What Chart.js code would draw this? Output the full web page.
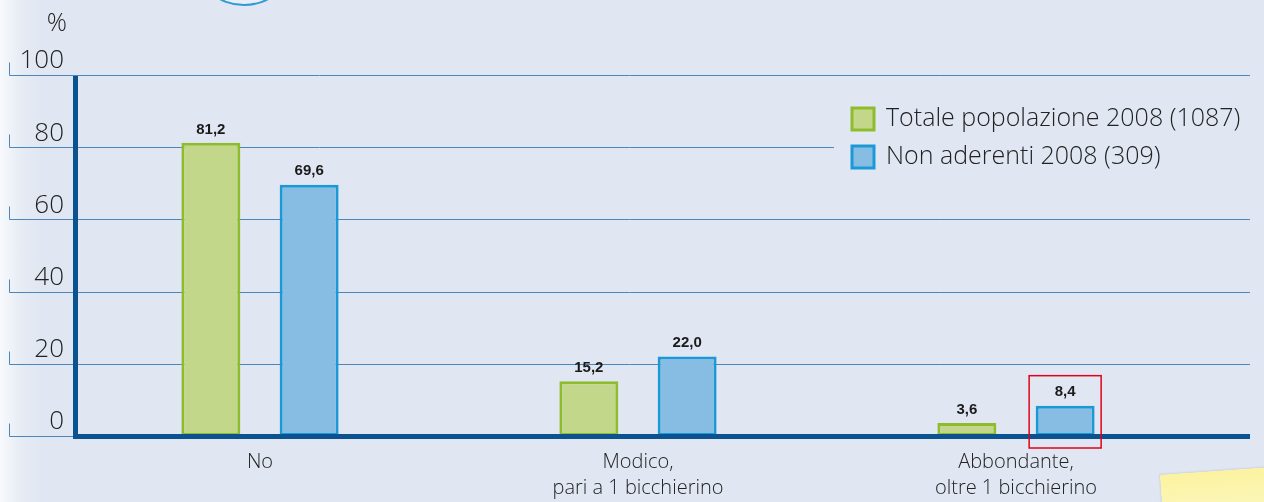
<!DOCTYPE html>
<html>
<head>
<meta charset="utf-8">
<script src="https://cdn.jsdelivr.net/npm/chart.js@4/dist/chart.umd.min.js"></script>
<style>
    html, body { margin: 0; padding: 0; }
    body {
        width: 1264px; height: 502px; overflow: hidden; position: relative;
        background: linear-gradient(to right, #f7f9fc 0px, #e6ebf4 22px, #e1e7f2 40px);
    }
    #chart { position: absolute; left: 0; top: 0; }
    .arc {
        position: absolute; left: 196px; top: -80px; width: 92px; height: 82px;
        border: 2px solid #2f9bd6; border-radius: 50%; background: #e9eef6;
    }
    .note {
        position: absolute; left: 1162px; top: 470px; width: 140px; height: 60px;
        background: linear-gradient(to bottom, #fbf3a0, #fdf8c8);
        transform: rotate(-4deg); box-shadow: -1px -1px 2px rgba(0,0,0,0.08);
    }
</style>
</head>
<body>
<div class="arc"></div>
<div class="note"></div>
<canvas id="chart" width="1264" height="502"></canvas>
<script>
// chart values
const categories = ["No", ["Modico,", "pari a 1 bicchierino"], ["Abbondante,", "oltre 1 bicchierino"]];
const seriesLabels = ["Totale popolazione 2008 (1087)", "Non aderenti 2008 (309)"];
const totalePopolazione = [81.2, 15.2, 3.6];
const nonAderenti = [69.6, 22.0, 8.4];
const yTicks = [0, 20, 40, 60, 80, 100];

const txtFont = "'Open Sans', 'Liberation Sans', sans-serif";
const gridColor = "#4d86b8";
const axisColor = "#0b5390";

// grid lines + the little left ticks, drawn behind the bars
const gridPlugin = {
    id: "grid",
    beforeDatasetsDraw(chart) {
        let ctx = chart.ctx;
        let y = chart.scales.y;
        ctx.save();
        ctx.strokeStyle = gridColor;
        ctx.lineWidth = 1;
        yTicks.forEach(v => {
            let py = Math.round(y.getPixelForValue(v)) + 0.5;
            ctx.beginPath();
            ctx.moveTo(9.5, py - 13);
            ctx.lineTo(9.5, py);
            ctx.lineTo(1250, py);
            ctx.stroke();
        });
        ctx.restore();
    },
    afterDatasetsDraw(chart) {
        let ctx = chart.ctx;
        let y = chart.scales.y;
        ctx.save();

        // thick axes
        ctx.fillStyle = axisColor;
        let base = y.getPixelForValue(0);
        let top = y.getPixelForValue(100);
        ctx.fillRect(73, top + 1, 5, base - top + 2);
        ctx.fillRect(73, base - 2, 1250 - 73, 5);

        // value labels
        ctx.fillStyle = "#1a1a1a";
        ctx.font = "bold 15px 'Liberation Sans Narrow', 'Liberation Sans', sans-serif";
        ctx.textAlign = "center";
        ctx.textBaseline = "bottom";
        chart.data.datasets.forEach((ds, i) => {
            chart.getDatasetMeta(i).data.forEach((bar, j) => {
                let txt = ds.data[j].toFixed(1).replace(".", ",");
                ctx.fillText(txt, bar.x, bar.y - 6);
            });
        });

        // red highlight box round the last blue bar
        let hl = chart.getDatasetMeta(1).data[2];
        ctx.strokeStyle = "#e2001a";
        ctx.lineWidth = 1.5;
        ctx.strokeRect(hl.x - 36, hl.y - 30, 72, base + 12 - (hl.y - 30));

        // "%" unit
        ctx.fillStyle = "#222";
        ctx.font = "300 25px " + txtFont;
        ctx.textAlign = "right";
        ctx.textBaseline = "middle";
        ctx.fillText("%", 67, 24);

        // legend
        ctx.fillStyle = "#e1e7f2";
        ctx.fillRect(834, 100, 430, 76);
        ctx.font = "300 25px " + txtFont;
        ctx.textAlign = "left";
        chart.data.datasets.forEach((ds, i) => {
            let ly = 119 + i * 38;
            ctx.fillStyle = ds.backgroundColor;
            ctx.fillRect(852, ly - 11, 22, 22);
            ctx.strokeStyle = ds.borderColor;
            ctx.lineWidth = 3;
            ctx.strokeRect(852, ly - 11, 22, 22);
            ctx.fillStyle = "#222";
            ctx.fillText(ds.label, 886, ly);
        });
        ctx.restore();
    }
};

new Chart(document.getElementById("chart"), {
    type: "bar",
    data: {
        labels: categories,
        datasets: [
            {
                label: seriesLabels[0],
                data: totalePopolazione,
                backgroundColor: "#c3d78a",
                borderColor: "#8fbc2c",
                borderWidth: 3,
                borderSkipped: false
            },
            {
                label: seriesLabels[1],
                data: nonAderenti,
                backgroundColor: "#87bde3",
                borderColor: "#1b99d7",
                borderWidth: 3,
                borderSkipped: false
            }
        ]
    },
    options: {
        responsive: false,
        animation: false,
        events: [],
        layout: { padding: { top: 75, right: 59, left: 0, bottom: 2 } },
        datasets: { bar: { categoryPercentage: 0.52, barPercentage: 0.6 } },
        plugins: { legend: { display: false }, tooltip: { enabled: false } },
        scales: {
            x: {
                grid: { display: false, drawTicks: false },
                border: { display: false },
                afterFit(scale) { scale.height = 64; },
                ticks: {
                    color: "#222",
                    padding: 13,
                    font: { family: txtFont, size: 20, weight: 300, lineHeight: 1.3 }
                }
            },
            y: {
                min: 0,
                max: 100,
                grid: { display: false, drawTicks: false },
                border: { display: false },
                afterFit(scale) { scale.width = 71; },
                ticks: {
                    stepSize: 20,
                    color: "#222",
                    padding: 7,
                    labelOffset: -14,
                    font: { family: txtFont, size: 26, weight: 300 }
                }
            }
        }
    },
    plugins: [gridPlugin]
});
</script>
</body>
</html>
